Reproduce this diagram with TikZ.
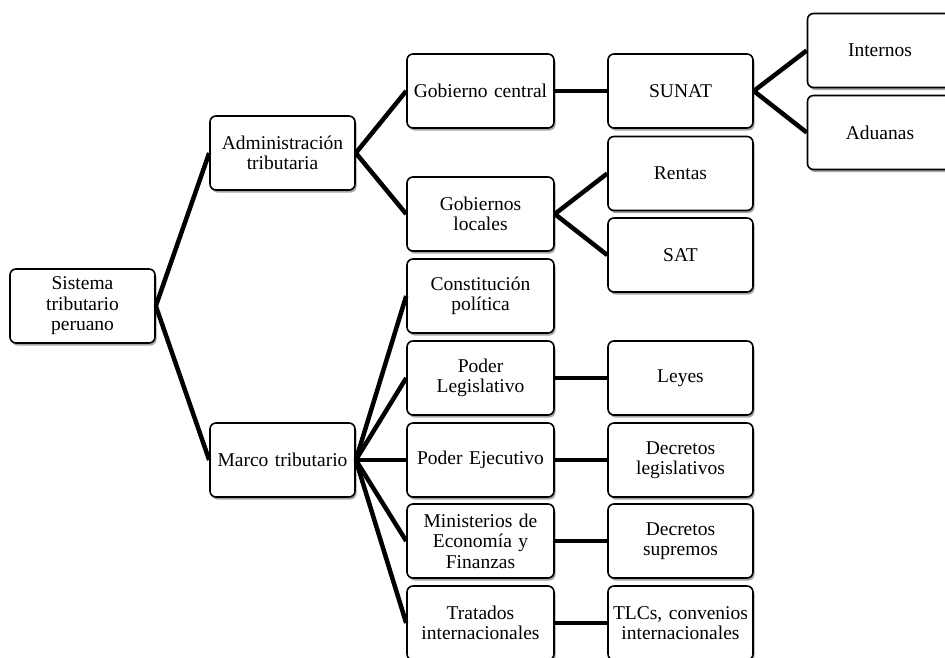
\documentclass[tikz,border=0pt]{standalone}
\usepackage{fontspec}
\setmainfont{Liberation Serif}
\usetikzlibrary{shadows}

\begin{document}
\begin{tikzpicture}[x=1pt,y=-1pt,
	caja/.style={draw, rounded corners=6pt, line width=1.6pt, fill=white,
		align=center, text width=139pt, inner sep=3pt, minimum height=74pt,
		font=\fontsize{19.5}{20.5}\selectfont,
		drop shadow={shadow xshift=1.5pt, shadow yshift=-2.5pt, opacity=0.35, fill=black}},
	cajaw/.style={caja, text width=141pt},
	rama/.style={line width=4.5pt}]
		\useasboundingbox (0,0) rectangle (945,657);
		\clip (0,0) rectangle (945,657);
		% edit here for the first levels
		\node[caja] (sis) at (82.5,306) {Sistema\\tributario\\peruano};
		\node[caja] (adm) at (282.5,153) {Administración\\tributaria};
		\node[caja] (mar) at (282.5,460) {Marco tributario};
		% edit here for the middle column
		\node[cajaw] (gobc) at (480.5,91) {Gobierno central};
		\node[cajaw] (gobl) at (480.5,214) {Gobiernos\\locales};
		\node[cajaw] (cons) at (480.5,296) {Constitución\\política};
		\node[cajaw] (legi) at (480.5,378) {Poder\\Legislativo};
		\node[cajaw] (ejec) at (480.5,460) {Poder Ejecutivo};
		\node[cajaw] (mini) at (480.5,541) {Ministerios de\\Economía y\\Finanzas};
		\node[cajaw] (trat) at (480.5,623) {Tratados\\internacionales};
		% edit here for the right columns
		\node[caja] (suna) at (680.5,91) {SUNAT};
		\node[caja] (rent) at (680.5,173.5) {Rentas};
		\node[caja] (sat) at (680.5,255) {SAT};
		\node[caja] (leye) at (680.5,378) {Leyes};
		\node[caja] (dleg) at (680.5,460) {Decretos\\legislativos};
		\node[caja] (dsup) at (680.5,541) {Decretos\\supremos};
		\node[caja] (tlcs) at (680.5,623) {TLCs, convenios\\internacionales};
		\node[caja] (inte) at (880,50.5) {Internos};
		\node[caja] (adua) at (880,132.5) {Aduanas};
		\foreach \a/\b in {sis/adm,sis/mar,adm/gobc,adm/gobl,gobc/suna,suna/inte,suna/adua,
			gobl/rent,gobl/sat,mar/cons,mar/legi,mar/ejec,mar/mini,mar/trat,
			legi/leye,ejec/dleg,mini/dsup,trat/tlcs} % edit here for the links
		\draw[rama] (\a.east) -- (\b.west);
\end{tikzpicture}
\end{document}
